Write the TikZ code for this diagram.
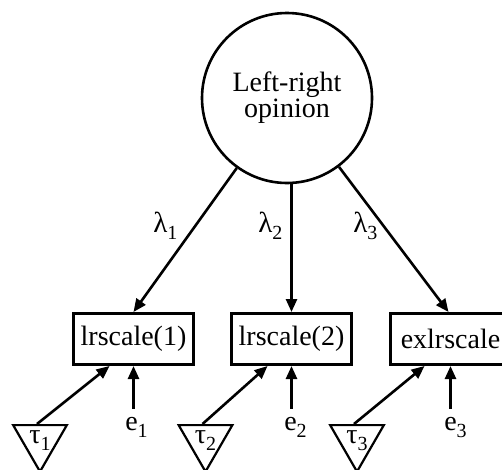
\documentclass[tikz,border=0pt]{standalone}
\usepackage{fontspec}
\setmainfont{Liberation Serif}
\usetikzlibrary{arrows.meta,shapes.geometric}

\newcommand{\lsub}[1]{\raisebox{-7pt}{\fontsize{20}{20}\selectfont #1}}

\tikzset{
  latent/.style={draw, circle, line width=2.6pt, minimum size=170pt, inner sep=0pt, align=center},
  obs/.style={draw, rectangle, line width=3pt, minimum width=120pt, minimum height=51pt, inner sep=0pt},
  icept/.style={draw, regular polygon, regular polygon sides=3, shape border rotate=180, line width=2.2pt, minimum size=62pt, inner sep=0pt},
  err/.style={inner sep=0pt, anchor=base west, font=\fontsize{28}{28}\selectfont},
  load/.style={inner sep=0pt, anchor=base west, font=\fontsize{29}{29}\selectfont}
}

\begin{document}
\begin{tikzpicture}[x=1pt, y=-1pt, line width=2.6pt,
    >={Triangle[length=13pt,width=11pt]},
    font=\fontsize{28}{26}\selectfont]
            \useasboundingbox (0,0) rectangle (502,469);
            \node [latent] (lr) at (287,98) {Left-right\\opinion};
            \node [obs] (b1) at (133.5,339) {lrscale(1)};
            \node [obs] (b2) at (291.5,339) {lrscale(2)};
            \node [obs] (b3) at (450.5,339) {exlrscale};
            % loadings
            \draw [->] (lr) -- (b1.north);
            \draw [->] (lr.south -| b2.north) -- (b2.north);
            \draw [->] (lr) -- ([xshift=-2pt]b3.north);
            \node [load] (l1) at (152,232) {λ\lsub{1}};
            \node [load] (l2) at (257,232) {λ\lsub{2}};
            \node [load] (l3) at (352,232) {λ\lsub{3}};
            % intercepts
            \node [icept, label={center:τ\lsub{1}}] (t1) at (40,440.6) {};
            \node [icept, label={center:τ\lsub{2}}] (t2) at (205.5,440.6) {};
            \node [icept, label={center:τ\lsub{3}}] (t3) at (357,440.6) {};
            \draw [->] ([xshift=-3pt]t1.90) -- ([xshift=-24pt]b1.south);
            \draw [->] ([xshift=-3pt]t2.90) -- ([xshift=-24pt]b2.south);
            \draw [->] ([xshift=-3pt]t3.90) -- ([xshift=-26pt]b3.south);
            % errors
            \node [err] (e1) at (124,430) {e\lsub{1}};
            \node [err] (e2) at (283,430) {e\lsub{2}};
            \node [err] (e3) at (443,430) {e\lsub{3}};
            \draw [->] ([yshift=7pt]e1.north -| b1.south) -- (b1.south);
            \draw [->] ([yshift=7pt]e2.north -| b2.south) -- (b2.south);
            \draw [->] ([yshift=7pt]e3.north -| b3.south) -- (b3.south);
\end{tikzpicture}
\end{document}
